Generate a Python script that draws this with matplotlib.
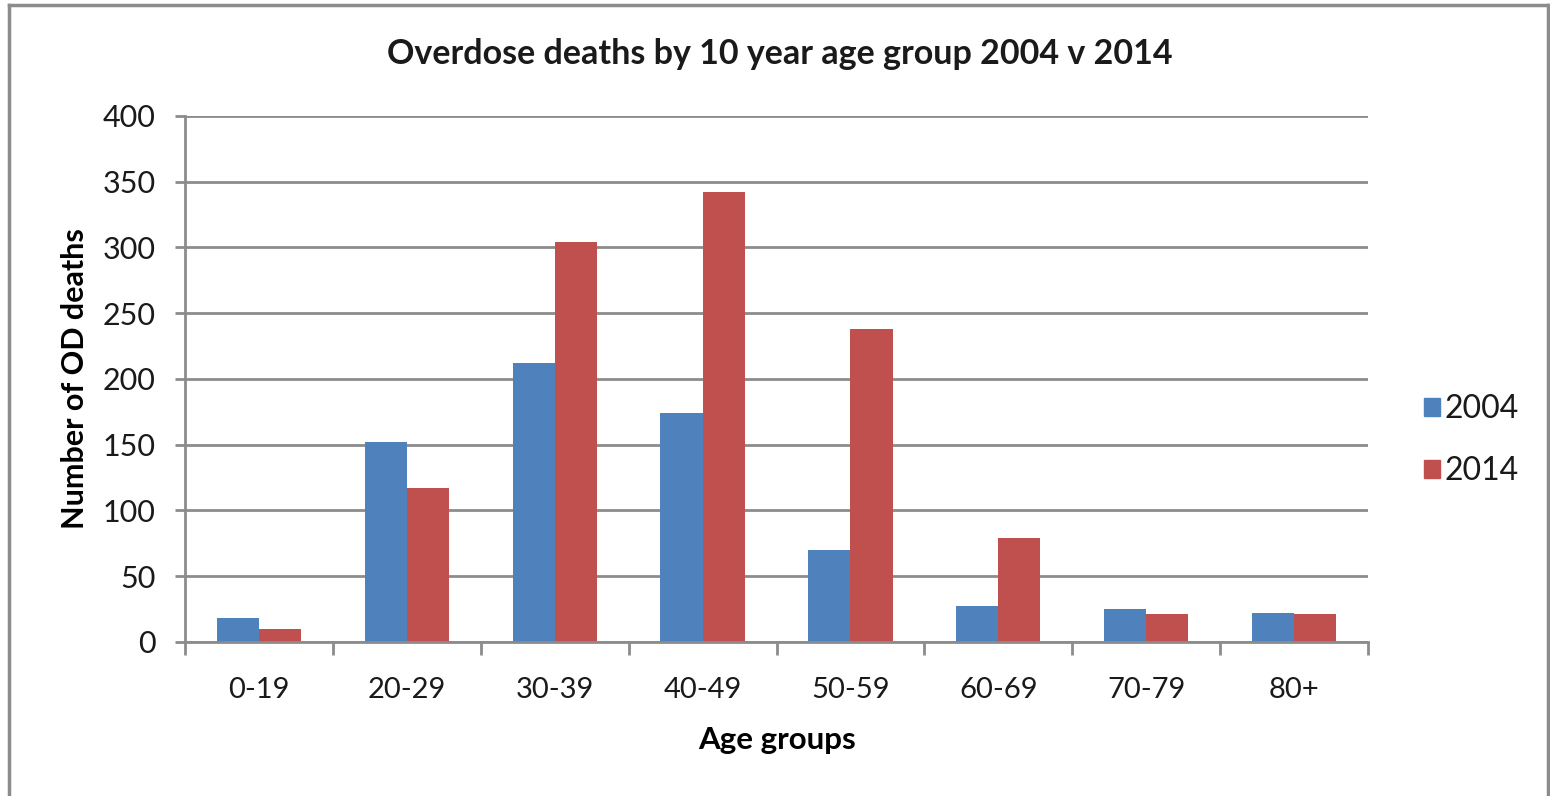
import numpy as np
import matplotlib
matplotlib.use('Agg')
import matplotlib.pyplot as plt
from matplotlib.lines import Line2D
from matplotlib.patches import Patch

age_groups = ['0-19', '20-29', '30-39', '40-49', '50-59', '60-69', '70-79', '80+']
deaths_2004 = [18, 152, 212, 174, 70, 27, 25, 22]
deaths_2014 = [10, 117, 304, 342, 238, 79, 21, 21]
y_ticks = [0, 50, 100, 150, 200, 250, 300, 350, 400]

BLUE = '#4F81BD'
RED = '#C0504D'
GRID = '#8C8C8C'

plt.rcParams['font.family'] = ['Lato', 'DejaVu Sans']
plt.rcParams['text.color'] = '#1A1A1A'

fig = plt.figure(figsize=(15.5, 7.96), dpi=100)
ax = fig.add_axes([0.1194, 0.1935, 0.7632, 0.6608])

x = np.arange(len(age_groups))
w = 0.285
ax.bar(x - w / 2, deaths_2004, width=w, color=BLUE, zorder=3)
ax.bar(x + w / 2, deaths_2014, width=w, color=RED, zorder=3)

ax.set_xlim(-0.5, len(age_groups) - 0.5)
ax.set_ylim(0, 400)
ax.set_yticks(y_ticks)
ax.tick_params(axis='y', labelsize=22, length=7, width=2, color=GRID, pad=14,
               labelcolor='#1A1A1A')

# category labels in the middle, tick marks between categories
ax.set_xticks(x)
ax.set_xticklabels(age_groups)
ax.tick_params(axis='x', which='major', length=0, labelsize=21, pad=25,
               labelcolor='#1A1A1A')
ax.set_xticks(np.arange(len(age_groups) + 1) - 0.5, minor=True)
ax.tick_params(axis='x', which='minor', length=9, width=2, color=GRID)

ax.yaxis.grid(True, color=GRID, linewidth=2, zorder=0)
ax.set_axisbelow(True)
for side in ['top', 'right']:
    ax.spines[side].set_visible(False)
for side in ['left', 'bottom']:
    ax.spines[side].set_color(GRID)
    ax.spines[side].set_linewidth(2)
    ax.spines[side].set_zorder(4)

ax.set_xlabel('Age groups', fontsize=22.5, fontweight='bold', labelpad=17)
ax.set_ylabel('Number of OD deaths', fontsize=22, fontweight='bold', labelpad=10)
fig.text(0.503, 0.932, 'Overdose deaths by 10 year age group 2004 v 2014',
         ha='center', va='center', fontsize=24.5, fontweight='bold')

handles = [Patch(color=BLUE, label='2004'), Patch(color=RED, label='2014')]
fig.legend(handles=handles, loc='center left', bbox_to_anchor=(0.9, 0.447),
           frameon=False, fontsize=23, handlelength=0.5, handleheight=0.5,
           handletextpad=0.15, labelspacing=1.0)

# chart frame, open at the bottom edge
frame = dict(color='#8C8C8C', linewidth=2.5, transform=fig.transFigure)
fig.add_artist(Line2D([0.0055, 0.0055], [0.0, 0.9935], **frame))
fig.add_artist(Line2D([0.0055, 0.9985], [0.9935, 0.9935], **frame))
fig.add_artist(Line2D([0.9985, 0.9985], [0.0, 0.9935], **frame))

fig.savefig('out.png', dpi=100, facecolor='white')
